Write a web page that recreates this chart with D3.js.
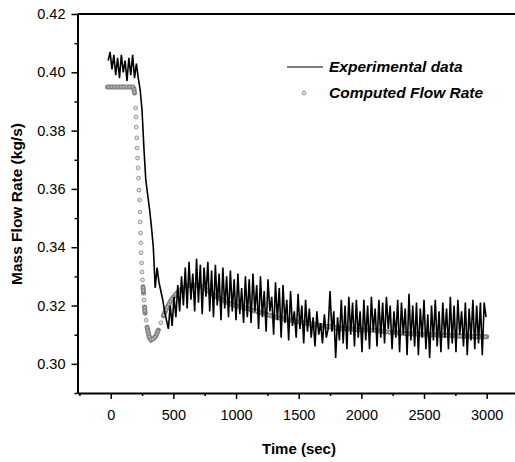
<!DOCTYPE html>
<html>
<head>
<meta charset="utf-8">
<script src="https://cdn.jsdelivr.net/npm/d3@7"></script>
<style>
	body { margin: 0; background: #fff; }
	text { font-family: Arial, "Liberation Sans", sans-serif; }
</style>
</head>
<body>
<svg></svg>
<script>

	var width = 515,
		height = 462;

	// experimental record, one reading every 15 s starting at t = -20 s
	var expStart = -20,
		expStep = 15;
	var expValues = [
		0.404, 0.407, 0.401, 0.406, 0.399, 0.405, 0.398, 0.406, 0.400, 0.404, 0.397, 0.405, 0.399, 0.406, 0.398, 0.403, 0.398,
		0.394, 0.387, 0.374, 0.363, 0.358, 0.353, 0.347, 0.340, 0.326, 0.333, 0.328, 0.325, 0.322, 0.318, 0.315,
		0.312, 0.320, 0.313, 0.323, 0.316, 0.327, 0.318, 0.330, 0.320, 0.333, 0.319, 0.335, 0.322, 0.331, 0.318, 0.336,
		0.321, 0.334, 0.317, 0.333, 0.323, 0.335, 0.318, 0.332, 0.316, 0.334, 0.320, 0.331, 0.315, 0.333, 0.319, 0.330,
		0.316, 0.332, 0.318, 0.329, 0.315, 0.331, 0.317, 0.326, 0.314, 0.330, 0.316,
		0.329, 0.314, 0.331, 0.318, 0.327, 0.312, 0.330, 0.316, 0.325, 0.311, 0.329, 0.318, 0.323, 0.310, 0.328, 0.315,
		0.326, 0.309, 0.327, 0.314, 0.322, 0.308, 0.325, 0.313, 0.318, 0.309, 0.324, 0.312, 0.320, 0.307, 0.322, 0.311,
		0.319, 0.309, 0.316, 0.306, 0.318, 0.310, 0.314, 0.307, 0.317, 0.309, 0.312, 0.325, 0.311, 0.318, 0.302, 0.316, 0.308,
		0.322, 0.307, 0.320, 0.305, 0.323, 0.310, 0.321, 0.306, 0.322, 0.309, 0.318, 0.304, 0.322, 0.308, 0.320, 0.305,
		0.323, 0.311, 0.319, 0.306, 0.322, 0.309, 0.321, 0.307, 0.323, 0.312, 0.320, 0.305, 0.318, 0.309, 0.322, 0.304,
		0.321, 0.310, 0.319, 0.303, 0.324, 0.308, 0.320, 0.306, 0.321, 0.303, 0.319, 0.309, 0.322, 0.305, 0.317, 0.302,
		0.320, 0.308, 0.322, 0.306, 0.318, 0.304, 0.321, 0.309, 0.319, 0.305, 0.323, 0.307, 0.320, 0.304, 0.322, 0.310,
		0.318, 0.306, 0.321, 0.303, 0.319, 0.308, 0.322, 0.305, 0.320, 0.307, 0.321, 0.303, 0.321, 0.316
	];

	// computed flow rate
	var compTimes = [
		-25, 0, 25, 50, 75, 100, 125, 150, 175, 185,
		190, 198, 202, 204, 208, 210, 214, 218, 222, 226, 230, 234, 236, 238, 240, 242, 246, 250, 254, 258,
		262, 266, 270, 274, 282, 290, 300, 310, 322, 340, 360, 380, 400, 420, 440, 460, 480, 500, 525, 550,
		575, 600, 630, 660, 690, 720, 750, 780, 810, 840, 870, 900, 940, 980, 1020, 1060, 1100, 1150, 1200, 1250,
		1300, 1350, 1400, 1450, 1500, 1550, 1600, 1650, 1700, 1750, 1800, 1850, 1900, 1950, 2000, 2050, 2100, 2150, 2200, 2250,
		2300, 2350, 2400, 2450, 2500, 2550, 2600, 2650, 2700, 2750, 2800, 2850, 2900, 2950, 3000
	];
	var compValues = [
		0.395, 0.395, 0.395, 0.395, 0.395, 0.395, 0.395, 0.395, 0.395, 0.3945,
		0.3929, 0.3878, 0.3847, 0.3812, 0.3775, 0.3740, 0.3706, 0.3672, 0.3637, 0.3596, 0.3562, 0.3521, 0.3487, 0.3449, 0.3415, 0.3381, 0.3346, 0.3315, 0.3288, 0.3264,
		0.3243, 0.3219, 0.3195, 0.3174, 0.3150, 0.3126, 0.3106, 0.3089, 0.3082, 0.3086, 0.3095, 0.3116, 0.3141, 0.3165, 0.3184, 0.3201, 0.3217, 0.3229, 0.3241, 0.3252,
		0.3260, 0.3266, 0.3269, 0.3270, 0.3269, 0.3265, 0.3258, 0.3250, 0.3240, 0.3231, 0.3224, 0.3217, 0.3209, 0.3202, 0.3197, 0.3193, 0.3188, 0.3182, 0.3176, 0.3169,
		0.3162, 0.3157, 0.3152, 0.3148, 0.3144, 0.3140, 0.3137, 0.3133, 0.3130, 0.3127, 0.3124, 0.3121, 0.3120, 0.3118, 0.3117, 0.3116, 0.3115, 0.3113, 0.3110, 0.3108,
		0.3106, 0.3104, 0.3103, 0.3102, 0.3101, 0.3100, 0.3099, 0.3098, 0.3097, 0.3096, 0.3095, 0.3095, 0.3094, 0.3093, 0.3093
	];

	var xTicks = [0, 500, 1000, 1500, 2000, 2500, 3000];
	var xMinorTicks = [-250, 250, 750, 1250, 1750, 2250, 2750];
	var yTicks = [0.30, 0.32, 0.34, 0.36, 0.38, 0.40, 0.42];
	var yMinorTicks = [0.29, 0.31, 0.33, 0.35, 0.37, 0.39, 0.41];
	var legendLabels = ["Experimental data", "Computed Flow Rate"];

	var plotLeft = 77.5,
		plotRight = 515,
		plotTop = 14,
		plotBottom = 393;

	var x = d3.scaleLinear().domain([-265, 3226]).range([plotLeft, plotRight]);
	var y = d3.scaleLinear().domain([0.29, 0.42]).range([plotBottom, plotTop]);

	var svg = d3.select("svg")
		.attr("width", width)
		.attr("height", height);

	var expData = expValues.map(function(v, i) { return {t: expStart + i * expStep, v: v}; });
	var compData = compTimes.map(function(t, i) { return {t: t, v: compValues[i]}; });

	var line = d3.line()
		.x(function(d) { return x(d.t); })
		.y(function(d) { return y(d.v); });

	// computed band: join only close neighbours, the steep drop shows as single markers
	var runs = [[compData[0]]];
	for (var i = 1; i < compData.length; i++) {
		var a = compData[i - 1], b = compData[i];
		var dist = Math.hypot(x(b.t) - x(a.t), y(b.v) - y(a.v));
		if (dist < 7) runs[runs.length - 1].push(b);
		else runs.push([b]);
	}
	var isolated = runs.filter(function(r) { return r.length == 1; }).map(function(r) { return r[0]; });
	runs = runs.filter(function(r) { return r.length > 1; });

	var compLayer = svg.append("g");
	compLayer.selectAll(".band")
		.data(runs)
		.enter().append("path")
		.attr("class", "band")
		.attr("d", function(r) { return line(r); })
		.attr("fill", "none")
		.attr("stroke", "#858585")
		.attr("stroke-width", 5)
		.attr("stroke-linecap", "round");
	compLayer.selectAll(".bandcore")
		.data(runs)
		.enter().append("path")
		.attr("class", "bandcore")
		.attr("d", function(r) { return line(r); })
		.attr("fill", "none")
		.attr("stroke", "#d6d6d6")
		.attr("stroke-width", 1.3)
		.attr("stroke-dasharray", "1.5,1.5");
	compLayer.selectAll(".marker")
		.data(isolated)
		.enter().append("circle")
		.attr("class", "marker")
		.attr("cx", function(d) { return x(d.t); })
		.attr("cy", function(d) { return y(d.v); })
		.attr("r", 1.9)
		.attr("fill", "#e4e4e4")
		.attr("stroke", "#8a8a8a")
		.attr("stroke-width", 0.9);

	svg.append("path")
		.datum(expData)
		.attr("d", line)
		.attr("fill", "none")
		.attr("stroke", "#000")
		.attr("stroke-width", 1.6)
		.attr("stroke-linejoin", "miter");

	// axes
	var xAxis = svg.append("g")
		.attr("transform", "translate(0," + plotBottom + ")")
		.call(d3.axisBottom(x).tickValues(xTicks).tickSize(6).tickSizeOuter(0).tickPadding(11).tickFormat(d3.format("d")));
	svg.append("g")
		.attr("transform", "translate(0," + plotBottom + ")")
		.call(d3.axisBottom(x).tickValues(xMinorTicks).tickSize(3).tickSizeOuter(0).tickFormat(""))
		.select(".domain").remove();

	var yAxis = svg.append("g")
		.attr("transform", "translate(" + plotLeft + ",0)")
		.call(d3.axisLeft(y).tickValues(yTicks).tickSize(6).tickSizeOuter(0).tickPadding(6).tickFormat(d3.format(".2f")));
	svg.append("g")
		.attr("transform", "translate(" + plotLeft + ",0)")
		.call(d3.axisLeft(y).tickValues(yMinorTicks).tickSize(3).tickSizeOuter(0).tickFormat(""))
		.select(".domain").remove();

	svg.selectAll(".domain").attr("stroke-width", 2);
	svg.selectAll(".tick line").attr("stroke-width", 1.5);
	xAxis.selectAll(".tick text").attr("font-size", 14.5).attr("fill", "#000");
	yAxis.selectAll(".tick text").attr("font-size", 14.5).attr("fill", "#000");

	svg.append("line")
		.attr("x1", plotLeft).attr("x2", plotRight)
		.attr("y1", plotTop).attr("y2", plotTop)
		.attr("stroke", "#000")
		.attr("stroke-width", 2);

	svg.append("text")
		.attr("x", 299)
		.attr("y", 454)
		.attr("text-anchor", "middle")
		.attr("font-size", 15)
		.attr("font-weight", "bold")
		.text("Time (sec)");

	svg.append("text")
		.attr("transform", "translate(22,204) rotate(-90)")
		.attr("text-anchor", "middle")
		.attr("font-size", 15.5)
		.attr("font-weight", "bold")
		.text("Mass Flow Rate (kg/s)");

	// legend
	var legend = svg.append("g");
	legend.append("line")
		.attr("x1", 287).attr("x2", 323)
		.attr("y1", 67).attr("y2", 67)
		.attr("stroke", "#000")
		.attr("stroke-width", 1.2);
	legend.append("circle")
		.attr("cx", 304).attr("cy", 93)
		.attr("r", 1.9)
		.attr("fill", "#e4e4e4")
		.attr("stroke", "#8a8a8a")
		.attr("stroke-width", 0.9);
	legend.selectAll(".label")
		.data(legendLabels)
		.enter().append("text")
		.attr("class", "label")
		.attr("x", 329)
		.attr("y", function(d, i) { return 72 + i * 26; })
		.attr("font-size", 15.5)
		.attr("font-weight", "bold")
		.attr("font-style", "italic")
		.text(function(d) { return d; });

</script>
</body>
</html>
